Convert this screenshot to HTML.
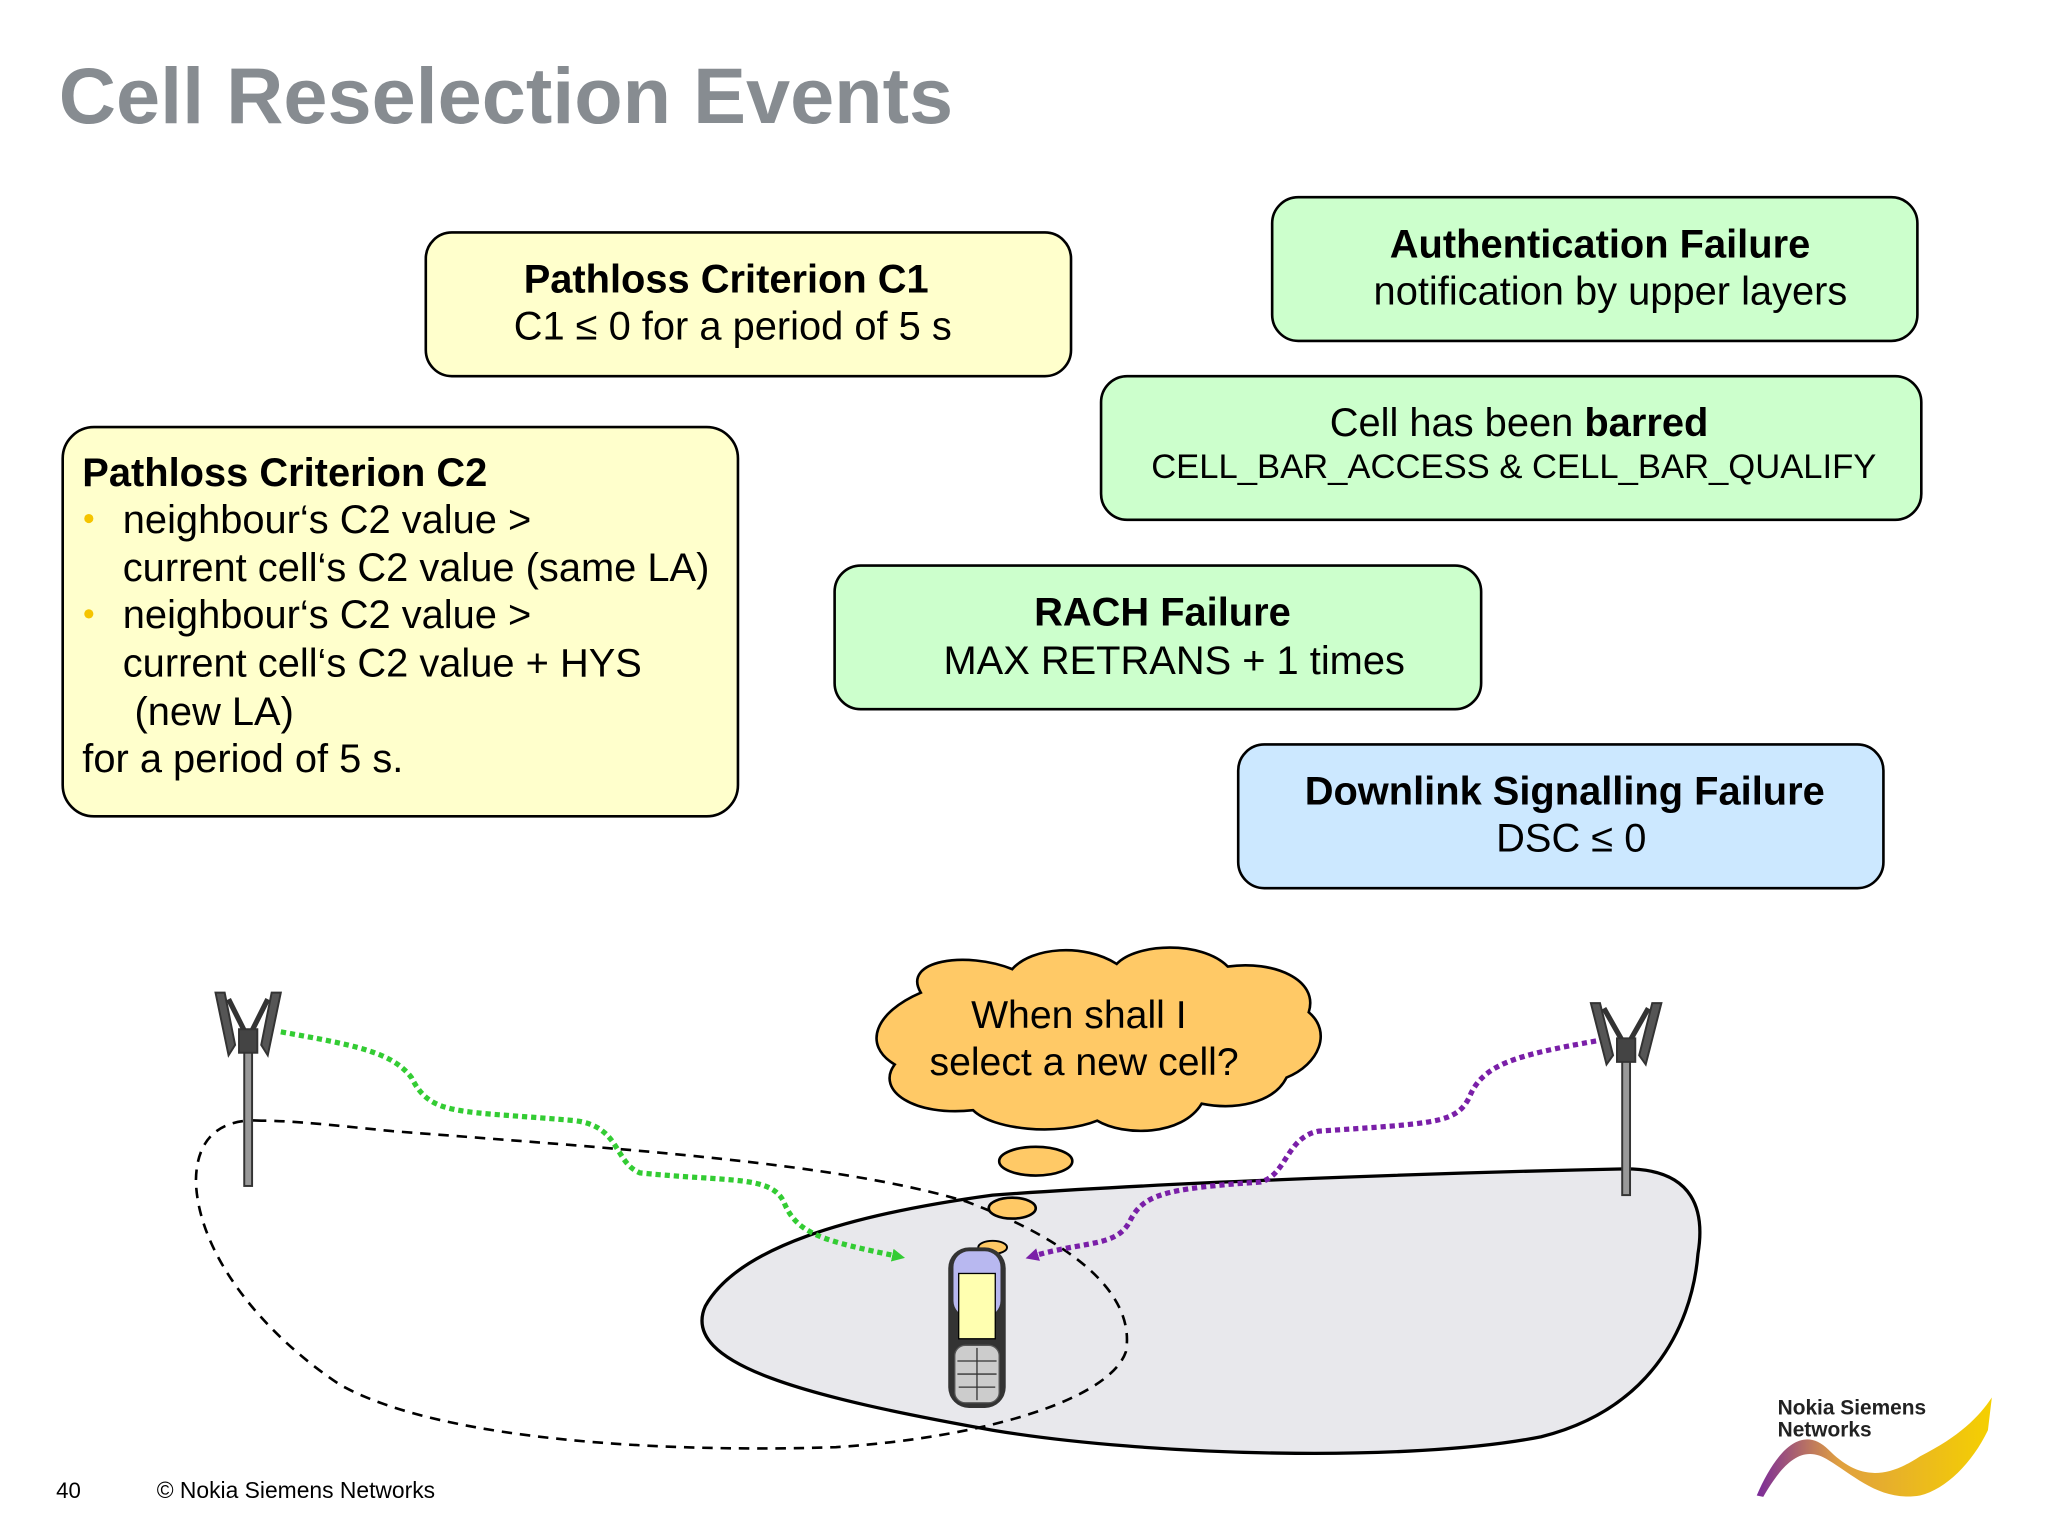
<!DOCTYPE html>
<html><head><meta charset="utf-8"><style>
html,body{margin:0;padding:0;background:#fff}
svg{display:block}
text{font-family:"Liberation Sans",Arial,sans-serif}
</style></head><body>
<svg width="2048" height="1536" viewBox="0 0 1568 1176" xmlns="http://www.w3.org/2000/svg">
<defs>
<marker id="ag" markerWidth="10" markerHeight="10" refX="5" refY="5" orient="auto" markerUnits="userSpaceOnUse"><path d="M0,0 L10,5 L0,10 z" fill="#33cc33"/></marker>
<marker id="ap" markerWidth="10" markerHeight="10" refX="5" refY="5" orient="auto" markerUnits="userSpaceOnUse"><path d="M0,0 L10,5 L0,10 z" fill="#7a1fa8"/></marker>
<linearGradient id="wv" x1="0" x2="1"><stop offset="0" stop-color="#7a2a9a"/><stop offset="0.35" stop-color="#e0a040"/><stop offset="1" stop-color="#f5d000"/></linearGradient>
</defs>
<rect width="1568" height="1176" fill="#fff"/>
<text x="45" y="94" font-size="60.7" font-weight="bold" fill="#878c91">Cell Reselection Events</text>

<rect x="326" y="178" width="494" height="110" rx="20" fill="#ffffcc" stroke="#000" stroke-width="2"/>
<text x="556" y="224" font-size="30.5" font-weight="bold" text-anchor="middle">Pathloss Criterion C1</text>
<text x="561" y="260" font-size="30.5" text-anchor="middle">C1 ≤ 0 for a period of 5 s</text>

<rect x="974" y="151" width="494" height="110" rx="20" fill="#ccffcc" stroke="#000" stroke-width="2"/>
<text x="1225" y="197" font-size="30.5" font-weight="bold" text-anchor="middle">Authentication Failure</text>
<text x="1233" y="233" font-size="30.5" text-anchor="middle">notification by upper layers</text>

<rect x="843" y="288" width="628" height="110" rx="20" fill="#ccffcc" stroke="#000" stroke-width="2"/>
<text x="1163" y="334" font-size="30.5" text-anchor="middle">Cell has been <tspan font-weight="bold">barred</tspan></text>
<text x="1159" y="366" font-size="26.5" text-anchor="middle">CELL_BAR_ACCESS  &amp; CELL_BAR_QUALIFY</text>

<rect x="48" y="327" width="517" height="298" rx="24" fill="#ffffcc" stroke="#000" stroke-width="2"/>
<text x="63" y="372" font-size="30.5" font-weight="bold">Pathloss Criterion C2</text>
<g font-size="30.5">
<circle cx="68" cy="397" r="3.5" fill="#f5c400"/>
<text x="94" y="408">neighbour‘s C2 value &gt;</text>
<text x="94" y="445">current cell‘s C2 value (same LA)</text>
<circle cx="68" cy="470" r="3.5" fill="#f5c400"/>
<text x="94" y="481">neighbour‘s C2 value &gt;</text>
<text x="94" y="518">current cell‘s C2 value + HYS</text>
<text x="103" y="555">(new LA)</text>
<text x="63" y="591">for a period of 5 s.</text>
</g>

<rect x="639" y="433" width="495" height="110" rx="20" fill="#ccffcc" stroke="#000" stroke-width="2"/>
<text x="890" y="479" font-size="30.5" font-weight="bold" text-anchor="middle">RACH Failure</text>
<text x="899" y="516" font-size="30.5" text-anchor="middle">MAX RETRANS + 1 times</text>

<rect x="948" y="570" width="494" height="110" rx="20" fill="#cce8ff" stroke="#000" stroke-width="2"/>
<text x="1198" y="616" font-size="30.5" font-weight="bold" text-anchor="middle">Downlink Signalling Failure</text>
<text x="1203" y="652" font-size="30.5" text-anchor="middle">DSC ≤ 0</text>

<!-- cell blob -->
<path d="M540,1000 C565,955 650,930 760,915 C900,905 1100,898 1240,895 C1300,893 1305,930 1300,960 C1295,1020 1260,1080 1180,1100 C1080,1120 880,1115 760,1095 C620,1070 520,1045 540,1000 Z" fill="#e8e8ec" stroke="#000" stroke-width="2.5"/>
<!-- dashed loop -->
<path d="M200,858 C170,856 150,870 150,905 C152,960 200,1020 260,1060 C340,1105 520,1112 640,1108 C760,1100 850,1070 862,1035 C870,990 820,950 740,920 C640,890 480,880 300,866 C260,862 225,858 200,858 Z" fill="none" stroke="#000" stroke-width="2" stroke-dasharray="8,6"/>

<!-- antennas -->
<g stroke="#333" stroke-width="1.5">
<rect x="187" y="790" width="6" height="118" fill="#999"/>
<path d="M165,760 L172,760 L180,800 L175,808 Z M215,760 L208,760 L200,800 L205,808 Z" fill="#555"/>
<path d="M175,765 L190,795 L205,765" fill="none" stroke-width="4"/>
<rect x="183" y="788" width="14" height="18" fill="#444"/>
<rect x="1242" y="798" width="6" height="117" fill="#999"/>
<path d="M1218,768 L1225,768 L1235,808 L1230,815 Z M1272,768 L1265,768 L1255,808 L1260,815 Z" fill="#555"/>
<path d="M1228,772 L1245,802 L1262,772" fill="none" stroke-width="4"/>
<rect x="1238" y="795" width="14" height="18" fill="#444"/>
</g>

<!-- signal paths -->
<path d="M215,790 C270,800 300,805 315,825 C330,855 350,850 440,858 C475,862 470,890 490,898 C560,905 590,900 600,920 C610,945 630,950 688,962" fill="none" stroke="#33cc33" stroke-width="4" stroke-dasharray="4,3" marker-end="url(#ag)"/>
<path d="M1222,797 C1160,808 1135,815 1125,840 C1115,860 1100,860 1010,866 C985,870 985,900 965,905 C890,910 875,915 865,935 C855,955 830,950 790,962" fill="none" stroke="#7a1fa8" stroke-width="4" stroke-dasharray="4,3" marker-end="url(#ap)"/>

<!-- cloud -->
<path d="M705,760 C690,735 740,728 775,742 C790,725 830,722 855,738 C870,722 920,720 940,740 C975,735 1010,750 1002,775 C1020,790 1010,815 985,825 C975,845 945,850 920,845 C905,870 860,870 840,858 C810,870 760,865 745,850 C700,855 670,835 685,815 C660,800 670,775 705,760 Z" fill="#ffc966" stroke="#000" stroke-width="2"/>
<text x="826" y="787" font-size="30" text-anchor="middle">When shall I</text>
<text x="830" y="823" font-size="30" text-anchor="middle">select a new cell?</text>
<ellipse cx="793" cy="889" rx="28" ry="11" fill="#ffc966" stroke="#000" stroke-width="2"/>
<ellipse cx="775" cy="925" rx="18" ry="8" fill="#ffc966" stroke="#000" stroke-width="2"/>
<ellipse cx="760" cy="955" rx="11" ry="5" fill="#ffc966" stroke="#000" stroke-width="1.5"/>

<!-- phone -->
<rect x="726" y="955" width="44" height="123" rx="16" fill="#333"/>
<rect x="730" y="958" width="36" height="50" rx="12" fill="#b8b8f0"/>
<rect x="734" y="975" width="28" height="50" fill="#ffffb0" stroke="#000"/>
<rect x="731" y="1030" width="34" height="44" rx="8" fill="#ccc" stroke="#555"/>
<g stroke="#333" stroke-width="1"><line x1="733" y1="1042" x2="763" y2="1042"/><line x1="733" y1="1052" x2="763" y2="1052"/><line x1="734" y1="1062" x2="762" y2="1062"/><line x1="748" y1="1032" x2="748" y2="1072"/></g>

<!-- footer -->
<text x="43" y="1147" font-size="17">40</text>
<text x="120" y="1147" font-size="17.5">© Nokia Siemens Networks</text>
<text x="1361" y="1083" font-size="16" font-weight="bold" fill="#222">Nokia Siemens</text>
<text x="1361" y="1100" font-size="16" font-weight="bold" fill="#222">Networks</text>
<path d="M1345,1145 C1360,1110 1380,1090 1400,1110 C1420,1130 1440,1135 1470,1115 C1500,1100 1515,1085 1525,1070 L1522,1095 C1510,1120 1490,1140 1470,1145 C1440,1150 1420,1130 1400,1118 C1380,1105 1365,1120 1350,1146 Z" fill="url(#wv)"/>
</svg>
</body></html>
